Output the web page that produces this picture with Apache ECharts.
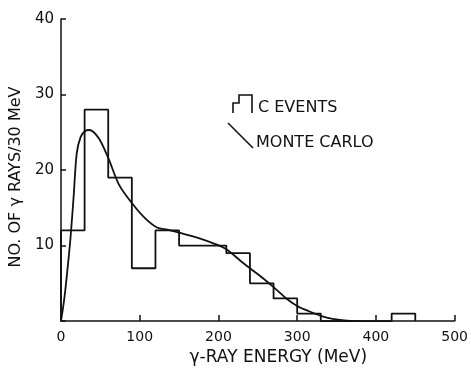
<!DOCTYPE html>
<html>
<head>
<meta charset="utf-8">
<script src="https://cdn.jsdelivr.net/npm/echarts@6/dist/echarts.min.js"></script>
<style>html,body{margin:0;padding:0;background:#fff}#c{width:471px;height:371px}</style>
</head>
<body>
<div id="c"></div>
<script>
// Histogram: left edges of 30 MeV bins and counts
var binStarts = [0, 30, 60, 90, 120, 150, 180, 210, 240, 270, 300, 330, 360, 390, 420];
var eventCounts = [12, 28, 19, 7, 12, 10, 10, 9, 5, 3, 1, 0, 0, 0, 1];
var binWidth = 30;
// Monte Carlo curve
var mcEnergy = [0, 4, 8, 12, 16, 20, 25, 31, 36, 48, 60, 74, 91, 107, 122, 135, 150, 175, 196, 210, 229, 240, 255, 270, 285, 300, 315, 330, 345, 360, 380];
var mcCounts = [0, 2.8, 6.6, 10.9, 16.4, 22.2, 24.4, 25.2, 25.3, 24.2, 21.6, 18, 15.5, 13.6, 12.4, 12.1, 11.7, 11, 10.2, 9.5, 7.9, 7, 5.8, 4.5, 3.1, 2.0, 1.3, 0.7, 0.3, 0.1, 0];
var xTicks = [0, 100, 200, 300, 400, 500];
var yTicks = [0, 10, 20, 30, 40];
var legendNames = ['C EVENTS', 'MONTE CARLO'];

var histData = [[binStarts[0], 0]];
for (var i = 0; i < binStarts.length; i++) histData.push([binStarts[i], eventCounts[i]]);
histData.push([binStarts[binStarts.length - 1] + binWidth, 0]);
var mcData = mcEnergy.map(function (e, i) { return [e, mcCounts[i]]; });

var font = 'DejaVu Sans';
var ink = '#111';
var chart = echarts.init(document.getElementById('c'), null, {renderer: 'canvas'});
chart.setOption({
  animation: false,
  backgroundColor: '#fff',
  grid: {left: 55, right: 13, top: 19, bottom: 39, containLabel: false},
  xAxis: {
    type: 'value', min: xTicks[0], max: xTicks[xTicks.length - 1], interval: 100,
    axisLine: {show: true, onZero: false, lineStyle: {color: ink, width: 1.5}},
    axisTick: {show: true, inside: true, length: 6, lineStyle: {color: ink, width: 1.5}},
    splitLine: {show: false},
    axisLabel: {fontFamily: font, fontSize: 14, color: ink, margin: 9},
    name: 'γ-RAY ENERGY (MeV)', nameLocation: 'middle', nameGap: 19,
    nameTextStyle: {fontFamily: font, fontSize: 17, color: ink, padding: [0, 0, 0, 41]}
  },
  yAxis: {
    type: 'value', min: yTicks[0], max: yTicks[yTicks.length - 1], interval: 10,
    axisLine: {show: true, lineStyle: {color: ink, width: 1.5}},
    axisTick: {show: true, inside: true, length: 5, lineStyle: {color: ink, width: 1.5}},
    splitLine: {show: false},
    axisLabel: {fontFamily: font, fontSize: 15, color: ink, margin: 7,
      formatter: function (v) { return v === 0 ? '' : String(v); }},
    name: 'NO. OF γ RAYS/30 MeV', nameLocation: 'middle', nameGap: 32,
    nameTextStyle: {fontFamily: font, fontSize: 16, color: ink, padding: [0, 14, 0, 0]}
  },
  graphic: [
    {type: 'polyline', shape: {points: [[233, 113], [233, 103], [239, 103], [239, 95], [252, 95], [252, 113]]},
      style: {stroke: ink, lineWidth: 1.6, fill: null}},
    {type: 'text', left: 258, top: 100, style: {text: legendNames[0], font: '16px "DejaVu Sans"', fill: ink}},
    {type: 'line', shape: {x1: 228, y1: 123, x2: 253, y2: 148}, style: {stroke: ink, lineWidth: 1.6}},
    {type: 'text', left: 256, top: 135, style: {text: legendNames[1], font: '16px "DejaVu Sans"', fill: ink}}
  ],
  series: [
    {
      name: legendNames[0], type: 'line', step: 'end', data: histData,
      symbol: 'none', showSymbol: false,
      lineStyle: {color: ink, width: 1.8}, itemStyle: {color: ink}, z: 3
    },
    {
      name: legendNames[1], type: 'line', smooth: 0.3, data: mcData,
      symbol: 'none', showSymbol: false,
      lineStyle: {color: ink, width: 1.8}, itemStyle: {color: ink}, z: 4
    }
  ]
});
</script>
</body>
</html>
